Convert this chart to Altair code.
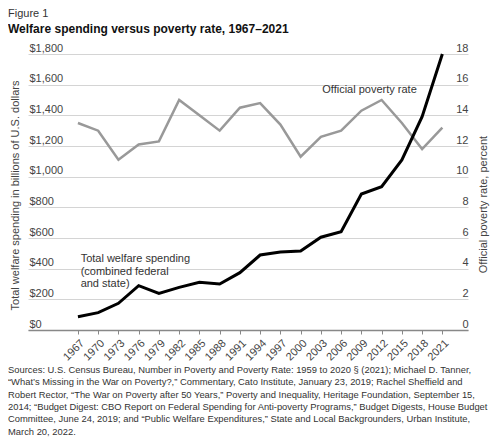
import altair as alt
import pandas as pd

years = [1967, 1970, 1973, 1976, 1979, 1982, 1985, 1988, 1991, 1994, 1997,
         2000, 2003, 2006, 2009, 2012, 2015, 2018, 2021]
spending = [87, 113, 174, 289, 239, 278, 311, 300, 374, 489, 509,
            515, 605, 641, 887, 935, 1109, 1391, 1800]
poverty = [13.5, 13.0, 11.1, 12.1, 12.3, 15.0, 14.0, 13.0, 14.5, 14.8, 13.4,
           11.3, 12.6, 13.0, 14.3, 15.0, 13.5, 11.8, 13.2]
spend_ticks = [0, 200, 400, 600, 800, 1000, 1200, 1400, 1600, 1800]
poverty_ticks = [0, 2, 4, 6, 8, 10, 12, 14, 16, 18]

spend_label = ["Total welfare spending", "(combined federal", "and state)"]
poverty_label = "Official poverty rate"
sources = [
    "Sources: U.S. Census Bureau, Number in Poverty and Poverty Rate: 1959 to 2020 § (2021); Michael D. Tanner,",
    "“What’s Missing in the War on Poverty?,” Commentary, Cato Institute, January 23, 2019; Rachel Sheffield and",
    "Robert Rector, “The War on Poverty after 50 Years,” Poverty and Inequality, Heritage Foundation, September 15,",
    "2014; “Budget Digest: CBO Report on Federal Spending for Anti-poverty Programs,” Budget Digests, House Budget",
    "Committee, June 24, 2019; and “Public Welfare Expenditures,” State and Local Backgrounders, Urban Institute,",
    "March 20, 2022.",
]

df = pd.DataFrame({"year": years, "spending": spending, "poverty": poverty})
one = pd.DataFrame({"k": [0]})
FONT = "Liberation Sans"

x_enc = alt.X(
    "year:Q",
    scale=alt.Scale(domain=[1959.6, 2024.8], nice=False, zero=False),
    axis=alt.Axis(values=years, tickCount=len(years), format="d", labelAngle=315,
                  title=None, grid=False,
                  domainColor="#888888", domainWidth=1.5, tickColor="#888888",
                  tickSize=4, labelFlush=False, labelOverlap=False, labelPadding=3),
)

spend_scale = alt.Scale(domain=[0, 1800], nice=False)
pov_scale = alt.Scale(domain=[0, 18], nice=False)

spend_line = alt.Chart(df).mark_line(color="#000000", strokeWidth=3).encode(
    x=x_enc,
    y=alt.Y("spending:Q", scale=spend_scale,
            axis=alt.Axis(orient="left", values=spend_ticks, tickCount=len(spend_ticks),
                          labelExpr="'$' + format(datum.value, ',')",
                          grid=True, gridColor="#d4d4d4", domain=False, ticks=False,
                          tickSize=0, labelAlign="left", labelBaseline="alphabetic",
                          labelPadding=-1, labelOffset=-3, labelFlush=False,
                          labelOverlap=False,
                          title="Total welfare spending in billions of U.S. dollars",
                          titleX=-13, titleY=141, titleAngle=270,
                          titleAlign="center", titleBaseline="middle")),
)
spend_text = alt.Chart(one).mark_text(
    text=spend_label, align="left", baseline="middle", fontSize=11,
    lineHeight=12.5, color="#333333", font=FONT,
).encode(
    x=alt.X(datum=1967.4),
    y=alt.Y(datum=461, scale=spend_scale),
)
left = alt.layer(spend_line, spend_text)

pov_line = alt.Chart(df).mark_line(color="#999999", strokeWidth=2.5).encode(
    x=x_enc,
    y=alt.Y("poverty:Q", scale=pov_scale,
            axis=alt.Axis(orient="right", values=poverty_ticks, tickCount=len(poverty_ticks),
                          grid=False, domain=False, ticks=False, tickSize=0,
                          labelAlign="right", labelBaseline="alphabetic",
                          labelPadding=0, labelOffset=-3, labelFlush=False,
                          labelOverlap=False,
                          title="Official poverty rate, percent",
                          titleX=15, titleY=150, titleAngle=270,
                          titleAlign="center", titleBaseline="middle")),
)
pov_text = alt.Chart(one).mark_text(
    text=poverty_label, align="left", baseline="middle", fontSize=11,
    color="#333333", font=FONT,
).encode(
    x=alt.X(datum=2003.2),
    y=alt.Y(datum=15.65, scale=pov_scale),
)
right = alt.layer(pov_line, pov_text)

src = alt.Chart(one).mark_text(
    text=sources, align="left", baseline="top", fontSize=9.4, lineHeight=12.3,
    color="#333333", font=FONT,
).encode(x=alt.value(-20), y=alt.value(312))

chart = alt.layer(right, left, src).resolve_scale(y="independent").properties(
    width=440, height=276,
    autosize=alt.AutoSizeParams(type="none"),
    padding={"left": 20, "top": 46, "right": 24, "bottom": 108},
    title=alt.Title("Figure 1", subtitle="Welfare spending versus poverty rate, 1967–2021",
                    anchor="start", frame="group", dx=-20, offset=7,
                    font=FONT, fontSize=11, fontWeight="normal", color="#333333",
                    subtitleFont=FONT, subtitleFontSize=12, subtitleFontWeight="bold",
                    subtitleColor="#111111", subtitlePadding=5),
).configure_axis(
    labelFont=FONT, labelFontSize=11, labelColor="#444444",
    titleFont=FONT, titleFontSize=11, titleColor="#444444", titleFontWeight="normal",
).configure_view(strokeWidth=0)

chart.save("out.html", embed_options={"renderer": "svg", "actions": False})
